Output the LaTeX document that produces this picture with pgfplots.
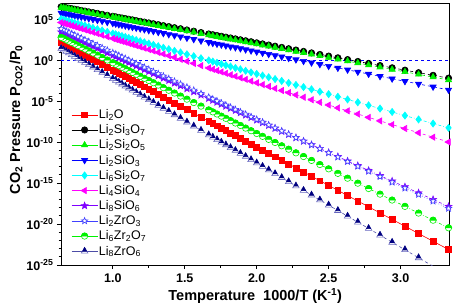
\documentclass[border=0pt]{standalone}
\usepackage{fontspec}
\setmainfont{Liberation Sans}
\usepackage{pgfplots}
\usepackage{pgfplotstable}
\pgfplotsset{compat=1.18}
\definecolor{cred}{rgb}{1,0,0}
\definecolor{cgreen}{rgb}{0,0.95,0}
\definecolor{cblue}{rgb}{0,0,1}
\definecolor{ccyan}{rgb}{0,1,1}
\definecolor{cmag}{rgb}{1,0,1}
\definecolor{cviolet}{rgb}{0.5,0,1}
\definecolor{cstar}{rgb}{0.25,0.25,1}
\definecolor{cnavy}{rgb}{0,0,0.5}
\definecolor{clav}{rgb}{0.4,0.4,0.75}
\definecolor{cslate}{rgb}{0.3,0.3,0.65}
\pgfdeclareplotmark{fstar}{%
 \pgfpathmoveto{\pgfpointpolar{90}{\pgfplotmarksize}}%
 \pgfpathlineto{\pgfpointpolar{126}{.42\pgfplotmarksize}}%
 \pgfpathlineto{\pgfpointpolar{162}{\pgfplotmarksize}}%
 \pgfpathlineto{\pgfpointpolar{198}{.42\pgfplotmarksize}}%
 \pgfpathlineto{\pgfpointpolar{234}{\pgfplotmarksize}}%
 \pgfpathlineto{\pgfpointpolar{270}{.42\pgfplotmarksize}}%
 \pgfpathlineto{\pgfpointpolar{306}{\pgfplotmarksize}}%
 \pgfpathlineto{\pgfpointpolar{342}{.42\pgfplotmarksize}}%
 \pgfpathlineto{\pgfpointpolar{18}{\pgfplotmarksize}}%
 \pgfpathlineto{\pgfpointpolar{54}{.42\pgfplotmarksize}}%
 \pgfpathclose
 \pgfusepathqfillstroke}
\pgfdeclareplotmark{hcirc}{%
 \pgfsetfillcolor{white}\pgfsetstrokecolor{cgreen}%
 \pgfpathcircle{\pgfpointorigin}{\pgfplotmarksize}%
 \pgfusepathqfillstroke
 \pgfsetfillcolor{cgreen}%
 \pgfpathmoveto{\pgfqpoint{\pgfplotmarksize}{0pt}}%
 \pgfpatharc{0}{180}{\pgfplotmarksize}%
 \pgfpathclose
 \pgfusepathqfillstroke}
\pgfdeclareplotmark{htri}{%
 \pgfsetfillcolor{white}\pgfsetstrokecolor{clav}%
 \pgfpathmoveto{\pgfqpoint{0pt}{\pgfplotmarksize}}%
 \pgfpathlineto{\pgfqpoint{-.866\pgfplotmarksize}{-.5\pgfplotmarksize}}%
 \pgfpathlineto{\pgfqpoint{.866\pgfplotmarksize}{-.5\pgfplotmarksize}}%
 \pgfpathclose\pgfusepathqfillstroke
 \pgfsetfillcolor{cnavy}\pgfsetstrokecolor{cnavy}%
 \pgfpathmoveto{\pgfqpoint{0pt}{\pgfplotmarksize}}%
 \pgfpathlineto{\pgfqpoint{-.55\pgfplotmarksize}{-.05\pgfplotmarksize}}%
 \pgfpathlineto{\pgfqpoint{.55\pgfplotmarksize}{-.05\pgfplotmarksize}}%
 \pgfpathclose\pgfusepathqfillstroke}
% x = 1000/T (K^-1); columns s1..s10 = log10(P_CO2/P0)
\pgfplotstableread{
x s1 s2 s3 s4 s5 s6 s7 s8 s9 s10
3.3333 -23.11 -2.18 -2.41 -3.61 -8.25 -9.98 -17.85 -18.09 -20.46 -26.26
3.2258 -22.10 -1.83 -2.05 -3.24 -7.72 -9.39 -17.00 -17.21 -19.53 -25.15
3.1250 -21.16 -1.51 -1.72 -2.89 -7.22 -8.85 -16.20 -16.39 -18.66 -24.12
3.0303 -20.26 -1.20 -1.41 -2.56 -6.75 -8.33 -15.45 -15.62 -17.84 -23.14
2.9412 -19.43 -0.91 -1.12 -2.25 -6.31 -7.85 -14.75 -14.89 -17.07 -22.23
2.8571 -18.64 -0.64 -0.84 -1.95 -5.89 -7.40 -14.08 -14.21 -16.35 -21.36
2.7778 -17.89 -0.38 -0.58 -1.67 -5.50 -6.97 -13.45 -13.56 -15.66 -20.54
2.7027 -17.19 -0.14 -0.33 -1.41 -5.13 -6.56 -12.86 -12.95 -15.01 -19.77
2.6316 -16.52 0.09 -0.10 -1.16 -4.78 -6.17 -12.30 -12.37 -14.40 -19.04
2.5641 -15.88 0.31 0.12 -0.93 -4.45 -5.81 -11.76 -11.82 -13.81 -18.35
2.5000 -15.28 0.52 0.34 -0.71 -4.13 -5.46 -11.26 -11.30 -13.26 -17.69
2.4390 -14.71 0.72 0.54 -0.49 -3.83 -5.13 -10.77 -10.80 -12.73 -17.06
2.3810 -14.16 0.91 0.73 -0.29 -3.54 -4.82 -10.31 -10.33 -12.23 -16.46
2.3256 -13.64 1.09 0.91 -0.10 -3.27 -4.51 -9.88 -9.87 -11.75 -15.89
2.2727 -13.14 1.26 1.08 0.09 -3.01 -4.23 -9.46 -9.44 -11.30 -15.35
2.2222 -12.67 1.42 1.25 0.26 -2.76 -3.95 -9.06 -9.03 -10.86 -14.83
2.1739 -12.21 1.58 1.41 0.43 -2.52 -3.69 -8.68 -8.64 -10.44 -14.33
2.1277 -11.78 1.73 1.56 0.59 -2.29 -3.44 -8.31 -8.26 -10.04 -13.85
2.0833 -11.36 1.87 1.71 0.75 -2.07 -3.20 -7.96 -7.90 -9.66 -13.40
2.0408 -10.96 2.01 1.85 0.90 -1.86 -2.97 -7.62 -7.55 -9.29 -12.96
2.0000 -10.58 2.14 1.98 1.04 -1.66 -2.75 -7.30 -7.22 -8.94 -12.54
1.9608 -10.21 2.27 2.11 1.18 -1.47 -2.54 -6.99 -6.90 -8.60 -12.14
1.9231 -9.86 2.39 2.23 1.31 -1.28 -2.33 -6.69 -6.59 -8.28 -11.75
1.8868 -9.52 2.51 2.35 1.44 -1.10 -2.14 -6.40 -6.30 -7.96 -11.38
1.8519 -9.19 2.62 2.47 1.56 -0.93 -1.95 -6.13 -6.01 -7.66 -11.02
1.8182 -8.87 2.73 2.58 1.67 -0.76 -1.77 -5.86 -5.74 -7.37 -10.67
1.7857 -8.57 2.83 2.69 1.79 -0.60 -1.59 -5.60 -5.47 -7.09 -10.33
1.7544 -8.27 2.94 2.79 1.90 -0.45 -1.42 -5.36 -5.22 -6.82 -10.01
1.7241 -7.99 3.03 2.89 2.00 -0.30 -1.26 -5.12 -4.97 -6.56 -9.70
1.6949 -7.71 3.13 2.98 2.10 -0.15 -1.10 -4.89 -4.73 -6.30 -9.40
1.6667 -7.45 3.22 3.08 2.20 -0.01 -0.94 -4.66 -4.50 -6.06 -9.11
1.6129 -6.94 3.39 3.25 2.39 0.25 -0.65 -4.24 -4.07 -5.60 -8.56
1.5625 -6.47 3.56 3.42 2.57 0.50 -0.38 -3.84 -3.65 -5.16 -8.04
1.5152 -6.02 3.71 3.58 2.73 0.73 -0.12 -3.47 -3.27 -4.75 -7.55
1.4706 -5.60 3.86 3.72 2.89 0.96 0.12 -3.11 -2.91 -4.37 -7.09
1.4286 -5.21 3.99 3.86 3.03 1.16 0.35 -2.78 -2.56 -4.00 -6.66
1.3889 -4.84 4.12 3.99 3.17 1.36 0.56 -2.47 -2.24 -3.66 -6.25
1.3514 -4.48 4.24 4.11 3.30 1.54 0.77 -2.17 -1.93 -3.34 -5.87
1.3158 -4.15 4.36 4.23 3.43 1.72 0.96 -1.89 -1.64 -3.03 -5.50
1.2821 -3.83 4.47 4.34 3.55 1.89 1.14 -1.62 -1.37 -2.74 -5.15
1.2500 -3.53 4.57 4.45 3.66 2.05 1.32 -1.37 -1.11 -2.46 -4.82
1.2195 -3.24 4.67 4.55 3.76 2.20 1.48 -1.13 -0.86 -2.20 -4.51
1.1905 -2.97 4.76 4.64 3.87 2.34 1.64 -0.90 -0.62 -1.95 -4.21
1.1628 -2.71 4.85 4.73 3.96 2.48 1.79 -0.68 -0.40 -1.71 -3.93
1.1364 -2.46 4.94 4.82 4.05 2.61 1.93 -0.47 -0.18 -1.48 -3.65
1.1111 -2.22 5.02 4.90 4.14 2.73 2.07 -0.27 0.02 -1.26 -3.39
1.0870 -2.00 5.10 4.98 4.23 2.85 2.20 -0.08 0.22 -1.05 -3.15
1.0638 -1.78 5.17 5.06 4.31 2.97 2.32 0.11 0.41 -0.85 -2.91
1.0417 -1.57 5.24 5.13 4.38 3.07 2.44 0.28 0.59 -0.66 -2.68
1.0204 -1.37 5.31 5.20 4.46 3.18 2.56 0.45 0.76 -0.48 -2.46
1.0000 -1.18 5.38 5.27 4.53 3.28 2.67 0.61 0.93 -0.30 -2.25
0.9615 -0.82 5.50 5.40 4.66 3.47 2.88 0.91 1.24 0.03 -1.85
0.9259 -0.48 5.62 5.51 4.79 3.65 3.07 1.20 1.53 0.34 -1.49
0.8929 -0.17 5.73 5.62 4.90 3.81 3.25 1.46 1.80 0.63 -1.15
0.8621 0.12 5.83 5.72 5.01 3.96 3.42 1.70 2.05 0.89 -0.83
0.8333 0.39 5.92 5.82 5.11 4.10 3.57 1.93 2.29 1.14 -0.53
0.8065 0.64 6.01 5.91 5.21 4.24 3.72 2.14 2.51 1.37 -0.26
0.7813 0.88 6.09 5.99 5.29 4.36 3.86 2.34 2.71 1.59 0.00
0.7576 1.10 6.17 6.07 5.38 4.48 3.98 2.53 2.91 1.79 0.24
0.7353 1.31 6.24 6.14 5.45 4.59 4.11 2.70 3.09 1.99 0.47
0.7143 1.51 6.31 6.21 5.53 4.69 4.22 2.87 3.26 2.17 0.69
0.6944 1.69 6.37 6.28 5.60 4.79 4.33 3.03 3.42 2.34 0.89
0.6757 1.87 6.43 6.34 5.66 4.88 4.43 3.18 3.57 2.50 1.09
0.6579 2.04 6.49 6.40 5.72 4.97 4.52 3.32 3.72 2.66 1.27
0.6410 2.19 6.54 6.45 5.78 5.05 4.62 3.45 3.86 2.80 1.44
}\data
\begin{document}
\begin{tikzpicture}
\path[use as bounding box] (-61pt,-41pt) rectangle (393pt,265pt);
\begin{axis}[
  at={(0pt,0pt)}, anchor=south west,
  scale only axis, width=388.5pt, height=262pt,
  xmin=0.64, xmax=3.34, ymin=-25, ymax=7,
  axis line style={line width=1pt},
  tick align=outside, xtick pos=left, ytick pos=left,
  major tick length=4pt, minor tick length=2.5pt,
  every tick/.style={black, line width=0.9pt},
  xtick={1,1.5,2,2.5,3}, xticklabels={1.0,1.5,2.0,2.5,3.0},
  minor x tick num=1,
  ytick={-25,-20,-15,-10,-5,0,5},
  yticklabels={10\textsuperscript{-25},10\textsuperscript{-20},10\textsuperscript{-15},10\textsuperscript{-10},10\textsuperscript{-5},10\textsuperscript{0},10\textsuperscript{5}},
  minor y tick num=4,
  tick label style={font=\fontsize{12.5}{14}\selectfont\bfseries},
  xticklabel style={yshift=-1pt},
  xlabel={Temperature~~1000/T (K\textsuperscript{-1})},
  ylabel={CO\textsubscript{2} Pressure P\textsubscript{CO2}/P\textsubscript{0}},
  every axis x label/.style={at={(axis description cs:0.5,0)}, yshift=-31pt, anchor=center, font=\fontsize{14.5}{16}\selectfont\bfseries},
  every axis y label/.style={at={(axis description cs:0,0.555)}, xshift=-45pt, rotate=90, anchor=center, font=\fontsize{14.5}{16}\selectfont\bfseries},
  legend style={draw=none, fill=none, at={(axis description cs:0.026,0.598)}, anchor=north west,
     font=\fontsize{12.5}{13}\selectfont, inner sep=0pt, row sep=2.6pt,
     nodes={inner sep=1pt}},
  legend cell align=left,
  legend image code/.code={\draw[mark repeat=2,mark phase=2,#1,solid] plot coordinates {(0pt,0pt)(13pt,0pt)(26pt,0pt)};},
  every axis plot/.append style={line width=0.6pt},
  mark size=3.2pt,
]
\addplot[cred, solid, mark=square*, mark size=2.9pt, mark options={solid, fill=cred}] table[x=x,y=s1]{\data};
\addlegendentry{Li\textsubscript{2}O}
\addplot[black, dashed, mark=*, mark options={solid, fill=black}] table[x=x,y=s2]{\data};
\addlegendentry{Li\textsubscript{2}Si\textsubscript{3}O\textsubscript{7}}
\addplot[cgreen, dashed, mark=triangle*, mark size=3.6pt, mark options={solid, fill=cgreen}] table[x=x,y=s3]{\data};
\addlegendentry{Li\textsubscript{2}Si\textsubscript{2}O\textsubscript{5}}
\addplot[cblue, dashed, mark=triangle*, mark size=3.6pt, mark options={solid, fill=cblue, rotate=180}] table[x=x,y=s4]{\data};
\addlegendentry{Li\textsubscript{2}SiO\textsubscript{3}}
\addplot[ccyan, dashdotted, mark=diamond*, mark size=3.6pt, mark options={solid, fill=ccyan}] table[x=x,y=s5]{\data};
\addlegendentry{Li\textsubscript{6}Si\textsubscript{2}O\textsubscript{7}}
\addplot[cmag, dashed, mark=triangle*, mark size=3.6pt, mark options={solid, fill=cmag, rotate=90}] table[x=x,y=s6]{\data};
\addlegendentry{Li\textsubscript{4}SiO\textsubscript{4}}
\addplot[cviolet, dashdotted, mark=fstar, mark size=3.6pt, mark options={solid, fill=cviolet}] table[x=x,y=s7]{\data};
\addlegendentry{Li\textsubscript{8}SiO\textsubscript{6}}
\addplot[cstar, dotted, mark=fstar, mark size=3.4pt, mark options={solid, fill=white}] table[x=x,y=s8]{\data};
\addlegendentry{Li\textsubscript{2}ZrO\textsubscript{3}}
\addplot[cgreen, dashdotted, mark=hcirc, mark size=3.2pt, mark options={solid}] table[x=x,y=s9]{\data};
\addlegendentry{Li\textsubscript{6}Zr\textsubscript{2}O\textsubscript{7}}
\addplot[cslate, dashed, mark=htri, mark size=3.8pt, mark options={solid}] table[x=x,y=s10]{\data};
\addlegendentry{Li\textsubscript{8}ZrO\textsubscript{6}}
\addplot[cblue, dashed, line width=0.8pt, forget plot] coordinates {(0.64,0) (3.34,0)};
\end{axis}
\end{tikzpicture}
\end{document}
